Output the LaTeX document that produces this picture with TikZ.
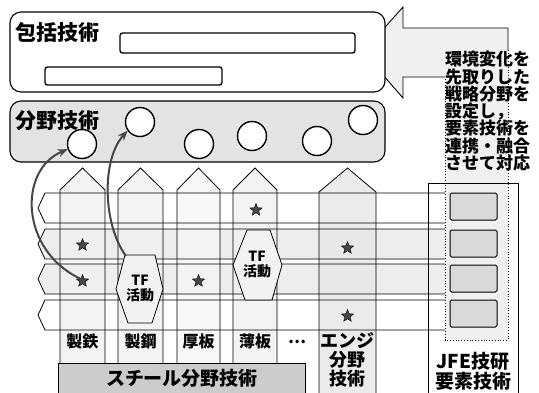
\documentclass[tikz,border=0pt]{standalone}
\usepackage{fontspec}
\setmainfont{Noto Sans CJK JP}
\usetikzlibrary{arrows.meta,shapes.geometric}
\begin{document}
\begin{tikzpicture}[x=1pt,y=-1pt,
  outline/.style={draw=black,line width=0.8pt},
  rbox/.style={draw=black,line width=1.1pt,rounded corners=11pt},
  innerrect/.style={draw=black,line width=1.3pt,rounded corners=2.5pt,fill=white},
  fieldcircle/.style={circle,draw=black,line width=1.4pt,fill=white,minimum size=29pt,inner sep=0pt},
  starmark/.style={star,star points=5,star point ratio=2.3,minimum size=13pt,inner sep=0pt,fill=gray!55!black,draw=black,line width=0.4pt},
  curvearrow/.style={draw=gray!55!black,line width=2pt,-{Stealth[length=10pt,width=8pt]}},
  title/.style={font=\bfseries\fontsize{21}{21}\selectfont,inner sep=0pt,anchor=west},
  collabel/.style={font=\bfseries\fontsize{16}{16}\selectfont,inner sep=0pt},
  tftext/.style={font=\bfseries\fontsize{14}{15}\selectfont,align=center,inner sep=0pt},
  elembox/.style={draw=black,line width=1pt,rounded corners=1.5pt,fill=gray!30}
]
\useasboundingbox (0,0) rectangle (539,392);

% big arrow + dotted text box
\fill[gray!12] (363,52) -- (403,7) -- (403,28) -- (508,28) -- (508,340) -- (445,340) -- (445,77) -- (403,77) -- (403,98) -- cycle;
\draw[line width=0.9pt] (445,77) -- (403,77) -- (403,98) -- (363,52) -- (403,7) -- (403,28) -- (508,28) -- (508,50);
\draw[dotted,line width=0.8pt] (508,50) -- (508,340) -- (445,340) -- (445,77);

% top box
\draw[rbox,fill=white] (10,12) rectangle (385,92);
\draw[innerrect] (120,33) rectangle (355,53);
\draw[innerrect] (45,67) rectangle (222,85);
\node[title] (hokatsu) at (15,32) {包括技術};

% field technology box
\draw[rbox,fill=gray!22] (10,101) rectangle (385,162);
\node[title] (bunya) at (15,121) {分野技術};

% rows (lanes)
\foreach \t/\b/\f in {193/223/white,229/259/gray!14,264/294/gray!14,300/330/white}{
  \fill[\f] (445,\t) -- (45,\t) -- (38,{(\t+\b)/2}) -- (45,\b) -- (445,\b) -- cycle;
}
% columns fill
\foreach \l/\r/\f in {60/105/gray!12,118/163/gray!12,177/220/gray!8,233/277/gray!12}{
  \fill[\f,opacity=0.8] (\l,363) -- (\l,190) -- ({(\l+\r)/2},168) -- (\r,190) -- (\r,363) -- cycle;
}
\fill[gray!18,opacity=0.85] (319,395) -- (319,192) -- (347.5,168) -- (376,192) -- (376,395) -- cycle;

% outlines of rows
\foreach \t/\b in {193/223,229/259,264/294,300/330}{
  \draw[outline] (445,\t) -- (45,\t) -- (38,{(\t+\b)/2}) -- (45,\b) -- (445,\b);
}
% outlines of columns
\foreach \l/\r in {60/105,118/163,177/220,233/277}{
  \draw[outline] (\l,363) -- (\l,190) -- ({(\l+\r)/2},168) -- (\r,190) -- (\r,363);
}
\draw[outline] (319,395) -- (319,192) -- (347.5,168) -- (376,192) -- (376,395);

% JFE box
\draw[line width=1pt] (428,395) -- (428,183) -- (518,183) -- (518,395);
\draw[elembox] (450,193) rectangle (497,220);
\draw[elembox] (450,230) rectangle (497,257);
\draw[elembox] (450,265) rectangle (497,292);
\draw[elembox] (450,300) rectangle (497,327);

% TF hexagons
\draw[outline,fill=gray!10] (125,255) -- (155,255) -- (163,289) -- (152,323) -- (128,323) -- (116,289) -- cycle;
\node[tftext] (tfA) at (140,289) {TF\\活動};
\draw[outline,fill=gray!10] (247,230) -- (270,230) -- (282,265) -- (272,300) -- (245,300) -- (233,265) -- cycle;
\node[tftext] (tfB) at (257,265) {TF\\活動};
\coordinate (tfAcorner) at (126,256);

% stars
\node[starmark] (s1) at (82.5,245) {};
\node[starmark] (s2) at (82.5,281) {};
\node[starmark] (s3) at (198.5,281) {};
\node[starmark] (s4) at (256,210) {};
\node[starmark] (s5) at (347.5,248) {};
\node[starmark] (s6) at (347.5,316) {};

% circles
\node[fieldcircle] (c1) at (82,144) {};
\node[fieldcircle] (c2) at (140,122) {};
\node[fieldcircle] (c3) at (199,144) {};
\node[fieldcircle] (c4) at (252,136) {};
\node[fieldcircle] (c5) at (317,141) {};
\node[fieldcircle] (c6) at (363,120) {};

% curved arrows
\draw[curvearrow] (s2.north west) .. controls (20,250) and (18,170) .. (c1.200);
\draw[curvearrow] (tfAcorner) .. controls (103,225) and (101,160) .. (c2.215);

% column labels
\node[collabel] (l1) at (82.5,341) {製鉄};
\node[collabel] (l2) at (140.5,341) {製鋼};
\node[collabel] (l3) at (198.5,341) {厚板};
\node[collabel] (l4) at (255,341) {薄板};
\node[collabel] (l5) at (297,342) {…};
\node[font=\bfseries\fontsize{18}{19}\selectfont,align=center,inner sep=0pt] (eng) at (347.5,360) {エンジ\\分野\\技術};

% bottom bar
\draw[line width=0.9pt,fill=gray!40] (58,363) rectangle (305,396);
\node[font=\bfseries\fontsize{19}{19}\selectfont,inner sep=0pt] (steel) at (182,378) {スチール分野技術};

% JFE labels
\node[font=\bfseries\fontsize{19}{20.5}\selectfont,align=center,inner sep=0pt,anchor=north] (jfe) at (473,352) {JFE技研\\要素技術};

% right text
\node[font=\bfseries\fontsize{17}{17.3}\selectfont,align=left,inner sep=0pt,anchor=north west] (msg) at (445,51) {環境変化を\\先取りした\\戦略分野を\\設定し，\\要素技術を\\連携・融合\\させて対応};
\end{tikzpicture}
\end{document}
